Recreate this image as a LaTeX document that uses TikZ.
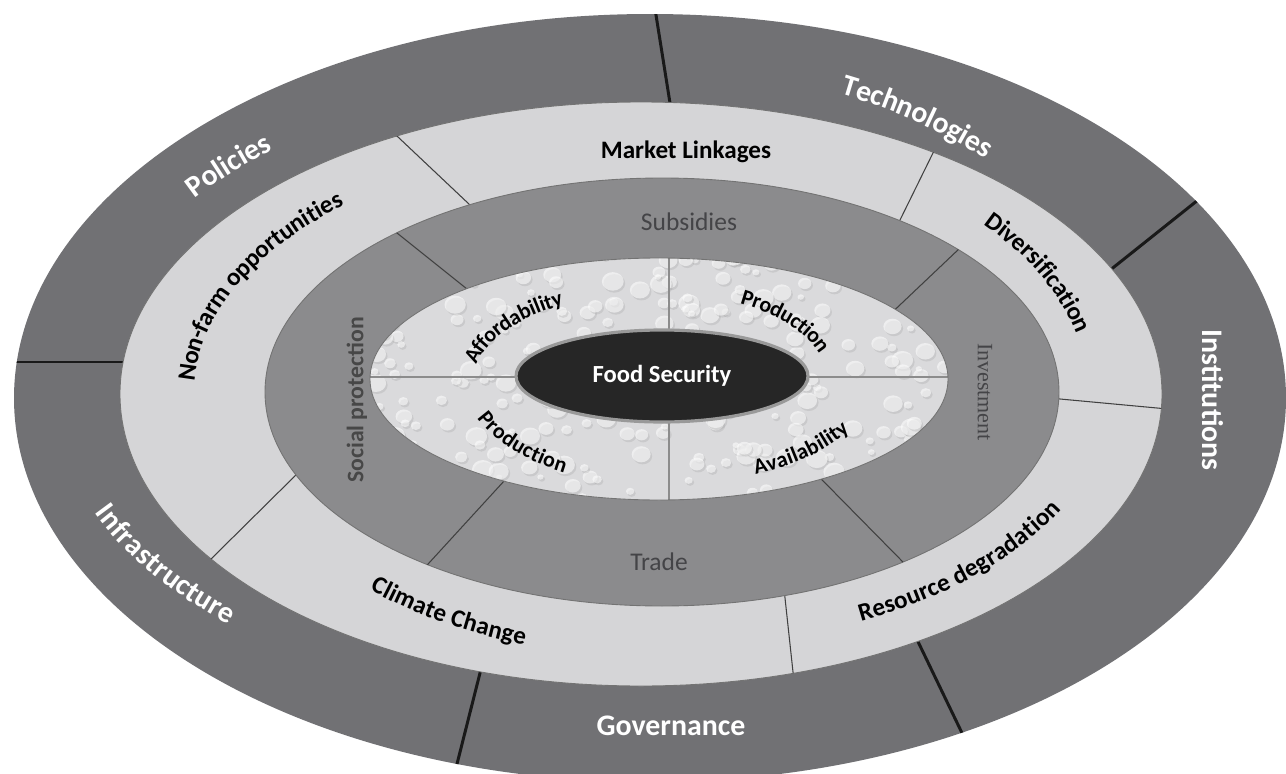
\documentclass[tikz,border=0pt]{standalone}
\usepackage{fontspec}
\setmainfont{Carlito}
\newfontfamily\timesfont{Liberation Serif}
\usetikzlibrary{calc, decorations.text}

\definecolor{ringdark}{RGB}{113,113,116}
\definecolor{ringlight}{RGB}{213,213,215}
\definecolor{ringmid}{RGB}{139,139,141}
\definecolor{dropbase}{RGB}{218,218,220}
\definecolor{corefill}{RGB}{38,38,38}
\definecolor{softtext}{RGB}{68,68,71}

\newcommand{\outerfont}{\fontsize{17}{20}\selectfont\bfseries}
\newcommand{\bandfont}{\fontsize{14.3}{17}\selectfont\bfseries}
\newcommand{\innerfont}{\fontsize{12.5}{15}\selectfont\bfseries}

\tikzset{
  ringtext/.style={decorate, decoration={text along path, text align=center, raise=-4.6pt}},
  outerword/.style={decoration={text color=white, raise=-5.5pt}},
  innerword/.style={decoration={raise=-4pt}},
  divider/.style={line width=1.7pt, black!90},
  seam/.style={line width=0.6pt, black!75},
  rim/.style={draw=black!55, line width=0.5pt},
}

% label set along an elliptic arc: [style]{cx}{cy}{a}{b}{from}{to}{text}
\newcommand{\ringlabel}[8][]{%
  \path[ringtext, #1, decoration={text={#8}}] ($(#2,-#3)+(#6:#4 and #5)$)
    arc[start angle=#6, end angle=#7, x radius=#4, y radius=#5];}

\begin{document}
\begin{tikzpicture}[x=0.02cm, y=0.02cm]
\useasboundingbox (0,0) rectangle (1286,-774);
\fill[white] (0,0) rectangle (1286,-774);

% outer ring
\fill[ringdark] (650,-398) ellipse [x radius=636, y radius=384];
\begin{scope}
  \clip (650,-398) ellipse [x radius=636, y radius=384];
  \foreach \ax/\ay/\bx/\by in {670/103/656/15, 1119/263/1198/200, 116/362/14/362,
      480/673/457/764, 923/652/962/733}
    \draw[divider] ($(\ax,-\ay)!-0.5!(\bx,-\by)$) -- ($(\ax,-\ay)!1.5!(\bx,-\by)$);
\end{scope}

% light ring
\filldraw[fill=ringlight, rim] (641,-394) ellipse [x radius=521, y radius=292];
\begin{scope}
  \clip (641,-394) ellipse [x radius=521, y radius=292];
  \foreach \ax/\ay/\bx/\by in {470/205/398/137, 900/220/932/155, 1060/399/1157/408,
      785/598/793/672, 303/468/210/560}
    \draw[seam] ($(\ax,-\ay)!-0.5!(\bx,-\by)$) -- ($(\ax,-\ay)!1.5!(\bx,-\by)$);
\end{scope}

% middle ring
\filldraw[fill=ringmid, rim] (662,-392) ellipse [x radius=397, y radius=214];
\begin{scope}
  \clip (662,-392) ellipse [x radius=397, y radius=214];
  \foreach \ax/\ay/\bx/\by in {462/285/392/229, 902/303/960/248, 835/493/900/559,
      494/492/429/563}
    \draw[seam] ($(\ax,-\ay)!-0.5!(\bx,-\by)$) -- ($(\ax,-\ay)!1.5!(\bx,-\by)$);
\end{scope}

% inner ring with drops
\begin{scope}
  \clip (659,-379) ellipse [x radius=289, y radius=121];
  \fill[dropbase] (365,-250) rectangle (955,-505);
  \pgfmathsetseed{11}
  \foreach \i in {1,...,300}{
    \pgfmathsetmacro{\dx}{368+584*rnd}
    \pgfmathsetmacro{\dy}{254+252*rnd}
    \pgfmathsetmacro{\dr}{3+8*rnd}
    \fill[black!40, opacity=0.25] (\dx+1.5,-\dy-2) ellipse [x radius=\dr, y radius=0.85*\dr];
    \fill[white, opacity=0.55] (\dx,-\dy) ellipse [x radius=\dr, y radius=0.85*\dr];
  }
  \draw[seam, black!45] (365,-377) -- (955,-377) (669,-250) -- (669,-505);
\end{scope}
\draw[rim] (659,-379) ellipse [x radius=289, y radius=121];

% core
\filldraw[fill=corefill, draw=black!40, line width=1.8pt] (662,-376) ellipse [x radius=146, y radius=46];
\node[font=\fontsize{14}{17}\selectfont\bfseries, text=white] (core) at (662,-376) {Food Security};

% outer labels
\ringlabel[outerword]{648}{396}{578}{338}{146}{128}{|\outerfont|Policies}
\ringlabel[outerword]{648}{396}{497}{338.5}{69}{44}{|\outerfont|Technologies}
\ringlabel[outerword]{648}{396}{584.5}{311.7}{198}{227}{|\outerfont|Infrastructure}
\node[font=\outerfont, text=white, rotate=-90] (institutions) at (1213,-400) {Institutions};
\node[font=\outerfont, text=white] (governance) at (671,-726) {Governance};

% light ring labels
\node[font=\bandfont] (linkages) at (686,-152) {Market Linkages};
\ringlabel{651}{393}{445}{269}{44}{9}{|\bandfont|Diversification}
\ringlabel{651}{393}{465}{262}{183}{128}{|\bandfont|Non-farm opportunities}
\ringlabel{651}{393}{414.3}{255.6}{225}{255}{|\bandfont|Climate Change}
\ringlabel{651}{393}{452}{249}{295}{337}{|\bandfont|Resource degradation}

% middle ring labels
\node[font=\fontsize{14.5}{17}\selectfont, text=softtext] (subsidies) at (689,-222) {Subsidies};
\node[font=\fontsize{14.5}{17}\selectfont, text=softtext] (trade) at (659,-562) {Trade};
\node[font=\fontsize{13.5}{16}\selectfont\bfseries, text=black!72, rotate=90] (social) at (357,-400) {Social protection};
\node[font=\timesfont\fontsize{12.5}{15}\selectfont, text=softtext, rotate=-90] (investment) at (985,-392) {Investment};

% inner labels
\ringlabel[innerword]{659}{379}{192}{94}{172}{119}{|\innerfont|Affordability}
\ringlabel[innerword]{659}{379}{175}{93.4}{65}{13}{|\innerfont|Production}
\ringlabel[innerword]{659}{379}{188}{100}{198}{242}{|\innerfont|Production}
\ringlabel[innerword]{659}{379}{209.6}{99.9}{296}{334}{|\innerfont|Availability}
\end{tikzpicture}
\end{document}
